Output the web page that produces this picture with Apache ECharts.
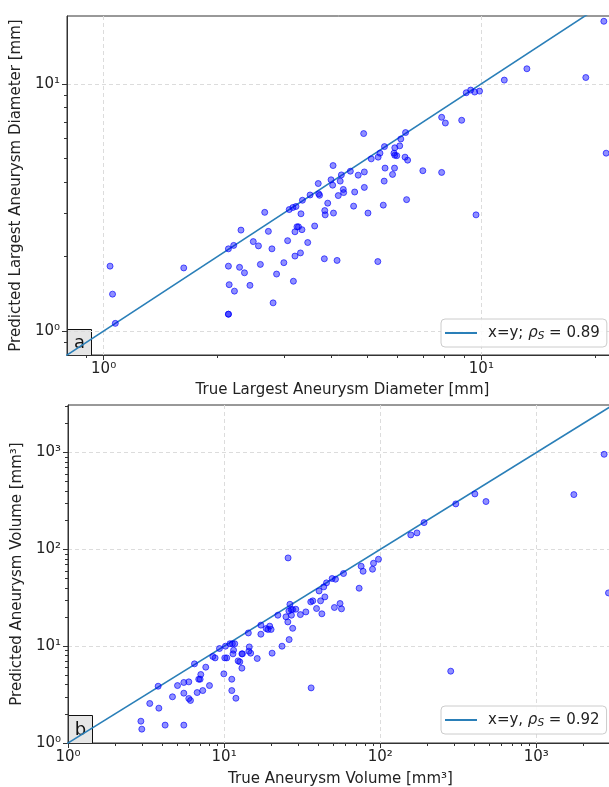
<!DOCTYPE html>
<html>
<head>
<meta charset="utf-8">
<script src="https://cdn.jsdelivr.net/npm/echarts@6/dist/echarts.min.js"></script>
<style>
  html, body { margin: 0; padding: 0; background: #fff; }
  #main { width: 609px; height: 787px; }
</style>
</head>
<body>
<div id="main"></div>
<script>
// panel a: largest diameter [mm]
var diamTrue = [1.04, 1.056, 1.074, 1.63, 2.14, 2.21, 2.14, 2.15, 2.22, 2.14, 2.14, 2.31, 2.29, 2.36, 2.44,
  2.49, 2.57, 2.60, 2.67, 2.73, 2.79, 2.81, 2.87, 3.00, 3.07, 3.10, 3.17, 3.23, 3.18, 3.21, 3.21, 3.25,
  3.28, 3.32, 3.33, 3.35, 3.36, 3.47, 3.52, 3.62, 3.71, 3.73, 3.70, 3.85, 3.86, 3.84, 3.92, 4.06, 4.04,
  4.15, 4.18, 4.05, 4.00, 4.26, 4.23, 4.31, 4.32, 4.50, 4.59, 4.62, 4.72, 4.90, 4.90, 4.88, 5.01, 5.11,
  5.33, 5.39, 5.32, 5.50, 5.53, 5.54, 5.56, 5.82, 5.87, 5.89, 5.90, 5.90, 5.97, 6.08, 6.12, 6.28, 6.30,
  6.34, 6.38, 7.00, 7.85, 7.85, 8.03, 8.87, 9.12, 9.37, 9.60, 9.89, 9.68, 11.5, 13.2, 18.9, 21.1, 21.4];
var diamPred = [1.83, 1.41, 1.074, 1.80, 2.15, 2.22, 1.83, 1.54, 1.45, 1.17, 1.17, 2.56, 1.81, 1.72, 1.53,
  2.30, 2.21, 1.86, 3.02, 2.53, 2.15, 1.30, 1.70, 1.89, 2.32, 3.10, 3.16, 3.19, 1.59, 2.01, 2.52, 2.64,
  2.64, 2.07, 2.98, 2.57, 3.38, 2.28, 3.55, 2.66, 3.59, 3.54, 3.95, 3.07, 2.95, 1.96, 3.29, 3.00, 3.89,
  1.93, 3.53, 4.67, 4.09, 4.28, 4.04, 3.74, 3.63, 4.43, 3.20, 3.65, 4.27, 4.40, 3.81, 6.29, 3.00, 4.97,
  5.05, 5.24, 1.91, 3.23, 4.04, 5.57, 4.56, 4.30, 5.24, 4.56, 5.14, 5.51, 5.12, 5.61, 5.98, 5.05, 6.35,
  3.40, 4.91, 4.45, 4.38, 7.32, 6.94, 7.12, 9.20, 9.43, 9.26, 9.34, 2.95, 10.35, 11.5, 10.6, 17.9, 5.24];

// panel b: volume [mm3]
var volTrue = [2.93, 2.97, 3.34, 3.82, 3.78, 4.19, 4.67, 5.03, 5.52, 5.94, 5.52, 5.94, 6.09, 5.52, 6.46,
  6.72, 6.88, 7.02, 7.09, 7.30, 7.63, 8.06, 8.47, 8.76, 9.34, 10.2, 9.96, 10.1, 10.4, 10.9, 11.3, 11.7,
  11.4, 11.5, 11.2, 11.2, 11.9, 12.3, 12.6, 13.0, 13.1, 13.0, 14.3, 14.5, 14.4, 14.8, 16.3, 17.2, 17.2,
  18.6, 19.1, 19.6, 20.0, 20.3, 22.1, 23.5, 24.9, 25.6, 26.1, 26.4, 26.0, 26.9, 27.5, 28.8, 27.0, 27.5,
  30.8, 33.4, 35.9, 37.0, 36.1, 39.1, 40.6, 41.5, 42.3, 44.2, 43.5, 45.3, 50.9, 25.7, 49.2, 51.7, 55.3,
  56.5, 73.3, 58.2, 75.5, 77.7, 90.6, 89.3, 97.5, 157, 172, 191, 305, 404, 476, 1740, 2720, 2900, 283];
var volPred = [1.68, 1.39, 2.56, 2.29, 3.86, 1.53, 3.00, 3.92, 4.22, 4.28, 3.27, 2.88, 2.75, 1.53, 6.57,
  3.32, 4.56, 4.56, 5.10, 3.48, 6.07, 3.92, 7.82, 7.57, 9.46, 10.0, 5.18, 7.57, 7.57, 10.6, 10.6, 10.6,
  8.33, 9.09, 4.56, 3.48, 2.90, 7.05, 6.89, 8.33, 8.33, 5.93, 13.7, 9.83, 8.88, 8.47, 7.46, 16.5, 13.3,
  15.2, 14.9, 16.1, 14.9, 8.47, 20.9, 10.0, 20.1, 17.8, 11.7, 27.1, 23.1, 23.9, 23.9, 24.1, 20.9, 15.3,
  21.2, 22.6, 28.7, 29.4, 3.71, 24.5, 37.2, 29.4, 21.6, 32.3, 41.0, 45.1, 25.1, 81.6, 50.0, 49.2, 27.6,
  24.3, 39.7, 56.3, 67.0, 59.4, 71.9, 62.4, 79.1, 141, 148, 189, 295, 374, 312, 368, 960, 35.5, 5.52];

var diamRange = [0.8, 23];
var diamRangeY = [0.8, 18.8];
var volRange = [1, 3100];
var diamMajor = [1, 10];
var diamMinorX = [0.9, 2, 3, 4, 5, 6, 7, 8, 9, 20];
var diamMinorY = [0.9, 2, 3, 4, 5, 6, 7, 8, 9];
var volMajor = [1, 10, 100, 1000];
var volMinor = [2, 3, 4, 5, 6, 7, 8, 9, 20, 30, 40, 50, 60, 70, 80, 90,
  200, 300, 400, 500, 600, 700, 800, 900, 2000, 3000];

var legendA = 'x=y; ρS = 0.89';
var legendB = 'x=y, ρS = 0.92';

var SUP = ['⁰', '¹', '²', '³', '⁴'];
function powLabel(v) {
  var e = Math.round(Math.log10(v));
  return '10' + SUP[e];
}
function zip(a, b) {
  var out = [];
  for (var i = 0; i < a.length; i++) out.push([a[i], b[i]]);
  return out;
}

var FONT = 'DejaVu Sans';
var AX = '#333';

function majorAxis(grid, range, ticks, name, gap, isY) {
  return {
    type: 'log', logBase: 10, gridIndex: grid,
    min: range[0], max: range[1],
    position: isY ? 'left' : 'bottom',
    name: name, nameLocation: 'middle', nameGap: gap,
    nameRotate: isY ? 90 : 0,
    nameTextStyle: { fontFamily: FONT, fontSize: 15, color: '#222' },
    axisLine: { show: true, lineStyle: { color: AX, width: 1 } },
    axisTick: { show: true, length: 5, customValues: ticks, lineStyle: { color: AX } },
    axisLabel: { customValues: ticks, formatter: powLabel, margin: 7,
      fontFamily: FONT, fontSize: 15, color: '#222' },
    splitLine: { show: true, lineStyle: { color: '#dcdcdc', type: [4, 3], width: 1 } }
  };
}
function minorAxis(grid, range, ticks, isY) {
  return {
    type: 'log', logBase: 10, gridIndex: grid,
    min: range[0], max: range[1],
    position: isY ? 'left' : 'bottom',
    axisLine: { show: false },
    axisTick: { show: true, length: 3, customValues: ticks, lineStyle: { color: AX } },
    axisLabel: { show: false },
    splitLine: { show: false }
  };
}
function legendFmt(rho, sep) {
  return function () {
    return '{t|x=y' + sep + ' }{r|ρ}{s|S}{t| = ' + rho + '}';
  };
}
var legendRich = {
  t: { fontFamily: FONT, fontSize: 15, color: '#222', lineHeight: 19 },
  r: { fontFamily: FONT, fontSize: 15, fontStyle: 'italic', color: '#222', lineHeight: 19 },
  s: { fontFamily: FONT, fontSize: 10.5, fontStyle: 'italic', color: '#222', lineHeight: 19, padding: [7, 0, 0, 0] }
};
function legendBox(name, top, rho, sep) {
  return {
    data: [{ name: name, icon: 'rect' }], left: 441, top: top, orient: 'horizontal',
    backgroundColor: 'rgba(255,255,255,0.85)', borderColor: '#cccccc', borderWidth: 1, borderRadius: 4,
    padding: [5, 7, 5, 4], itemWidth: 32, itemHeight: 2, itemGap: 10,
    formatter: legendFmt(rho, sep),
    textStyle: { rich: legendRich, padding: [0, 0, 0, 6] }
  };
}
function tagBox(label, left, top, w, h) {
  return {
    type: 'group', left: left, top: top,
    children: [
      { type: 'rect', shape: { x: 0, y: 0, width: w, height: h },
        style: { fill: '#e6e6e6', stroke: '#111', lineWidth: 1 } },
      { type: 'text', x: w / 2, y: h / 2 + 1,
        style: { text: label, fontFamily: FONT, fontSize: 18, fill: '#111', align: 'center', verticalAlign: 'middle' } }
    ]
  };
}

var scatterStyle = { color: 'rgba(0,0,255,0.55)', borderColor: 'rgba(0,0,255,0.8)', borderWidth: 1 };
var lineStyle = { color: '#2a7fb8', width: 1.6 };

var chart = echarts.init(document.getElementById('main'), null, { renderer: 'canvas' });
var option = {
  animation: false,
  backgroundColor: '#ffffff',
  textStyle: { fontFamily: FONT },
  grid: [
    { left: 67, top: 16, width: 551, height: 339, outerBoundsMode: 'none', containLabel: false,
      show: true, borderColor: AX, borderWidth: 1, backgroundColor: 'transparent' },
    { left: 68, top: 405, width: 545, height: 338, outerBoundsMode: 'none', containLabel: false,
      show: true, borderColor: AX, borderWidth: 1, backgroundColor: 'transparent' }
  ],
  xAxis: [
    majorAxis(0, diamRange, diamMajor, 'True Largest Aneurysm Diameter [mm]', 28, false),
    minorAxis(0, diamRange, diamMinorX, false),
    majorAxis(1, volRange, volMajor, 'True Aneurysm Volume [mm³]', 29, false),
    minorAxis(1, volRange, volMinor, false)
  ],
  yAxis: [
    majorAxis(0, diamRangeY, diamMajor, 'Predicted Largest Aneurysm Diameter [mm]', 40, true),
    minorAxis(0, diamRangeY, diamMinorY, true),
    majorAxis(1, volRange, volMajor, 'Predicted Aneurysm Volume [mm³]', 41, true),
    minorAxis(1, volRange, volMinor, true)
  ],
  legend: [
    legendBox(legendA, 319, '0.89', ';'),
    legendBox(legendB, 706, '0.92', ',')
  ],
  series: [
    { name: legendA, type: 'line', xAxisIndex: 0, yAxisIndex: 0, data: [[0.5, 0.5], [40, 40]],
      symbol: 'none', lineStyle: lineStyle, itemStyle: { color: '#2a7fb8' }, clip: true, z: 2 },
    { name: 'diam', type: 'scatter', xAxisIndex: 0, yAxisIndex: 0, data: zip(diamTrue, diamPred),
      symbolSize: 6, itemStyle: scatterStyle, z: 3 },
    { name: legendB, type: 'line', xAxisIndex: 2, yAxisIndex: 2, data: [[0.5, 0.5], [5000, 5000]],
      symbol: 'none', lineStyle: lineStyle, itemStyle: { color: '#2a7fb8' }, clip: true, z: 2 },
    { name: 'vol', type: 'scatter', xAxisIndex: 2, yAxisIndex: 2, data: zip(volTrue, volPred),
      symbolSize: 6, itemStyle: scatterStyle, z: 3 }
  ],
  graphic: [
    tagBox('a', 67, 329, 24, 26),
    tagBox('b', 68, 715, 24, 28)
  ]
};
chart.setOption(option);
</script>
</body>
</html>
